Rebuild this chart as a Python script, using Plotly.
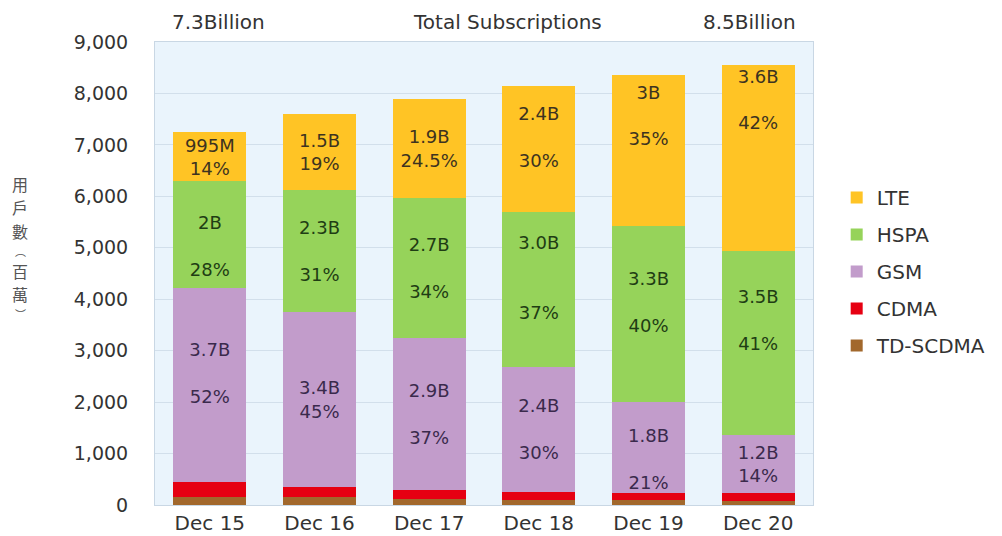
import plotly.graph_objects as go

# Values in millions of subscriptions
periods = ["Dec 15", "Dec 16", "Dec 17", "Dec 18", "Dec 19", "Dec 20"]
td_scdma = [160, 150, 115, 100, 95, 85]
cdma = [290, 195, 175, 160, 145, 145]
gsm = [3770, 3415, 2955, 2425, 1770, 1135]
hspa = [2070, 2355, 2725, 3020, 3405, 3565]
lte = [955, 1490, 1925, 2445, 2950, 3630]

# segment labels; "_" lines are blank spacer lines that nudge the label up or down
lte_text = ["995M|14%", "1.5B|19%", "1.9B|24.5%",
            "2.4B||30%|_", "3B||35%|_|_|_", "3.6B||42%|_|_|_|_|_"]
hspa_text = ["_|2B||28%", "2.3B||31%", "2.7B||34%",
             "3.0B|||37%|_", "3.3B||40%|_", "3.5B||41%|_|_"]
gsm_text = ["3.7B||52%|_", "3.4B|45%", "2.9B||37%",
            "2.4B||30%", "_|1.8B||21%", "1.2B|14%"]

top_left_label = "7.3Billion"
top_mid_label = "Total Subscriptions"
top_right_label = "8.5Billion"
y_title_chars = ["用", "戶", "數", "︵", "百", "萬", "︶"]


def fmt(labels):
    return [s.replace("_", "\u00a0").replace("|", "<br>") for s in labels]


FONT = "DejaVu Sans"
# (name, values, labels, fill, label colour, legend rank)
series = [
    ("TD-SCDMA", td_scdma, None, "#a2682c", "#333333", 5),
    ("CDMA", cdma, None, "#e60012", "#333333", 4),
    ("GSM", gsm, gsm_text, "#c29ccb", "#3a2a4c", 3),
    ("HSPA", hspa, hspa_text, "#96d35a", "#1f3d14", 2),
    ("LTE", lte, lte_text, "#ffc425", "#3d3320", 1),
]

fig = go.Figure()
for name, vals, txt, color, tcolor, rank in series:
    fig.add_trace(go.Bar(
        x=periods, y=vals, name=name, legendgroup=name, legendrank=rank,
        marker=dict(color=color, line=dict(width=0)),
        text=fmt(txt) if txt else None,
        textposition="inside" if txt else "none",
        insidetextanchor="middle", constraintext="none",
        textfont=dict(family=FONT, size=18, color=tcolor),
        hoverinfo="skip",
    ))

annotations = [
    dict(text=top_left_label, x=0.096, y=1.043),
    dict(text=top_mid_label, x=0.535, y=1.043),
    dict(text=top_right_label, x=0.904, y=1.043),
]
for a in annotations:
    a.update(xref="paper", yref="paper", xanchor="center", yanchor="middle",
             showarrow=False, font=dict(family=FONT, size=20, color="#333333"))

# vertical (upright) axis title, one character per row; plot area is 463px tall
PLOT_H, PLOT_BOTTOM = 463, 505
py = 172
for ch in y_title_chars:
    small = ch in "︵︶"
    size, slot = (11, 16.5) if small else (16, 23.5)
    annotations.append(dict(
        text=ch, x=-0.205, y=(PLOT_BOTTOM - (py + slot / 2)) / PLOT_H,
        xref="paper", yref="paper", xanchor="center", yanchor="middle",
        showarrow=False, font=dict(family="Noto Sans CJK TC", size=size, color="#555555"),
    ))
    py += slot

# page body adds an 8px offset, so margins are shifted to compensate
fig.update_layout(
    width=1002, height=536,
    barmode="stack", bargap=0.335,
    paper_bgcolor="white", plot_bgcolor="#eaf4fc",
    margin=dict(l=147, r=197, t=34, b=39, autoexpand=False),
    font=dict(family=FONT, color="#333333"),
    showlegend=True,
    legend=dict(
        x=1.036, y=0.706, xanchor="left", yanchor="top",
        traceorder="grouped", tracegroupgap=8,
        font=dict(family=FONT, size=20, color="#333333"),
        bgcolor="rgba(0,0,0,0)",
    ),
    annotations=annotations,
)
fig.update_xaxes(
    showgrid=False, showline=True, linecolor="#c9d7e4", mirror=True,
    tickfont=dict(family=FONT, size=20, color="#333333"),
    ticks="", ticklabelstandoff=0, automargin=False,
)
fig.update_yaxes(
    range=[0, 9000], dtick=1000, tickformat=",",
    showgrid=True, gridcolor="#d2dfeb", gridwidth=1,
    showline=True, linecolor="#c9d7e4", mirror=True, zeroline=False,
    tickfont=dict(family=FONT, size=19, color="#333333"),
    ticks="", ticklabelstandoff=22, automargin=False,
)

fig.write_html("out.html")
